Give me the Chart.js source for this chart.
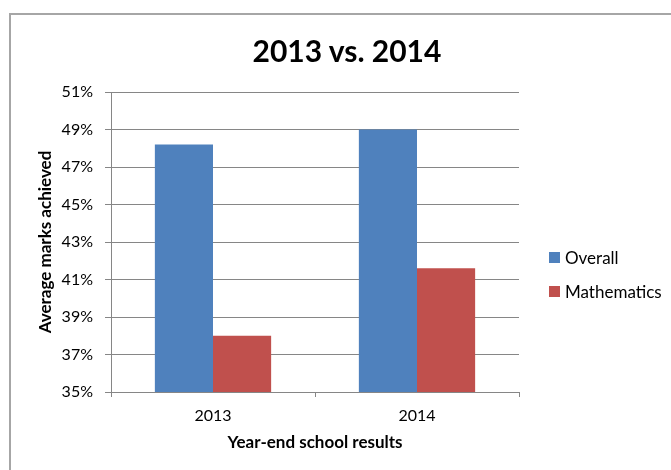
<!DOCTYPE html>
<html>
<head>
<meta charset="utf-8">
<script src="https://cdn.jsdelivr.net/npm/chart.js@4"></script>
<style>
  html, body { margin: 0; padding: 0; background: #fff; }
  #wrap { position: relative; width: 671px; height: 470px; overflow: hidden; font-family: Lato, "Open Sans", sans-serif; }
  #frame { position: absolute; left: 9px; top: 13px; width: 700px; height: 500px; border: 2px solid #a6a6a6; box-sizing: border-box; }
  #title { position: absolute; left: 197px; width: 300px; top: 30px; text-align: center; font-weight: bold; font-size: 30px; color: #000; line-height: 40px; white-space: nowrap; }
  #chart { position: absolute; left: 0; top: 0; }
  .sw { position: absolute; left: 549px; width: 11px; height: 11px; }
  .lt { position: absolute; left: 565px; font-size: 17px; color: #000; line-height: 20px; white-space: nowrap; }
</style>
</head>
<body>
<div id="wrap">
  <div id="frame"></div>
  <canvas id="chart" width="671" height="470"></canvas>
  <div id="title"></div>
  <div id="legend"></div>
</div>
<script>
const chartTitle = "2013 vs. 2014";
const categories = ["2013", "2014"];
const seriesNames = ["Overall", "Mathematics"];
const overallValues = [48.2, 49.0];
const mathValues = [38.0, 41.6];
const seriesColors = ["#4F81BD", "#C0504D"];
const yTicks = [35, 37, 39, 41, 43, 45, 47, 49, 51];
const xAxisTitle = "Year-end school results";
const yAxisTitle = "Average marks achieved";

document.getElementById('title').textContent = chartTitle;
const legendEl = document.getElementById('legend');
seriesNames.forEach((name, i) => {
  const sw = document.createElement('div');
  sw.className = 'sw';
  sw.style.top = (252 + i * 34) + 'px';
  sw.style.background = seriesColors[i];
  legendEl.appendChild(sw);
  const t = document.createElement('div');
  t.className = 'lt';
  t.style.top = (247.5 + i * 34) + 'px';
  t.textContent = name;
  legendEl.appendChild(t);
});

const axisColor = '#868686';
const fontFamily = 'Lato, "Open Sans", sans-serif';

new Chart(document.getElementById('chart'), {
  type: 'bar',
  data: {
    labels: categories,
    datasets: [
      { label: seriesNames[0], data: overallValues, backgroundColor: seriesColors[0], borderWidth: 0 },
      { label: seriesNames[1], data: mathValues, backgroundColor: seriesColors[1], borderWidth: 0 }
    ]
  },
  options: {
    responsive: false,
    animation: false,
    devicePixelRatio: 1,
    layout: { padding: { left: 8, top: 92, right: 152, bottom: 12 } },
    plugins: { legend: { display: false }, title: { display: false }, tooltip: { enabled: false } },
    datasets: { bar: { categoryPercentage: 0.57, barPercentage: 1.0 } },
    scales: {
      x: {
        offset: true,
        grid: { display: true, drawOnChartArea: false, drawTicks: true, tickLength: 5, color: axisColor, offset: true },
        border: { display: true, color: axisColor, width: 1 },
        ticks: { color: '#000', font: { family: fontFamily, size: 16 }, padding: 9 },
        title: { display: true, text: xAxisTitle, color: '#000', font: { family: fontFamily, size: 17, weight: 'bold' }, padding: { top: 4, bottom: 5 } },
        afterFit(scale) { scale.height = 66; }
      },
      y: {
        min: 35, max: 51,
        afterBuildTicks(scale) { scale.ticks = yTicks.map(v => ({ value: v })); },
        grid: { color: axisColor, lineWidth: 1, drawTicks: true, tickLength: 6 },
        border: { display: true, color: axisColor, width: 1 },
        ticks: { color: '#000', font: { family: fontFamily, size: 16 }, padding: 12, callback: v => v + '%' },
        title: { display: true, text: yAxisTitle, color: '#000', font: { family: fontFamily, size: 17, weight: 'bold' }, padding: { top: 27, bottom: 2 } },
        afterFit(scale) { scale.width = 103; }
      }
    }
  }
});
</script>
</body>
</html>
